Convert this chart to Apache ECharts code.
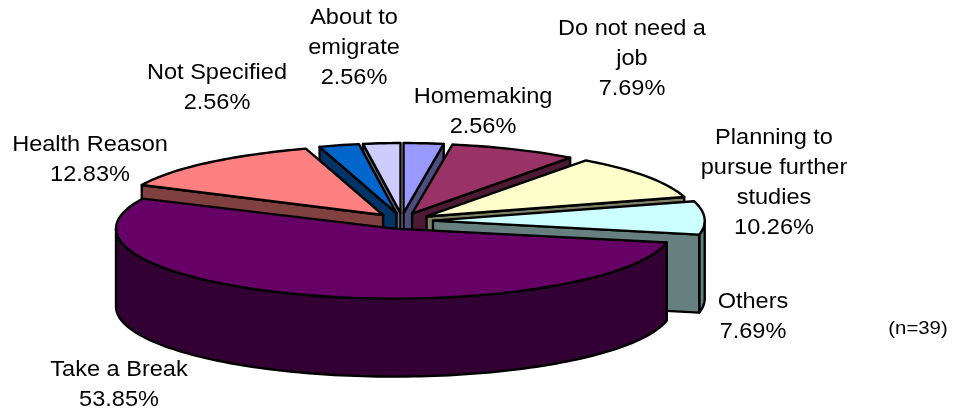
<!DOCTYPE html>
<html><head><meta charset="utf-8">
<style>html,body{margin:0;padding:0;background:#fff}#c{width:953px;height:416px}</style>
<script src="https://cdn.jsdelivr.net/npm/echarts@6/dist/echarts.min.js"></script>
</head><body><div id="c"></div>
<script>
const categories = ["Homemaking","Do not need a\njob","Planning to\npursue further\nstudies","Others","Take a Break","Health Reason","Not Specified","About to\nemigrate"];
const values = [2.56,7.69,10.26,7.69,53.85,12.83,2.56,2.56];
const note = "(n=39)";
const topColors = ["#9999FF","#993366","#FFFFCC","#CCFFFF","#660066","#FF8080","#0066CC","#CCCCFF"];
const sideColors = ["#4D4D80","#4D1A33","#808066","#668080","#330033","#804040","#003366","#666680"];
const labelCentres = [[483,112],[632,59],[774,183],[753,317],[119,385],[90,160],[217,88],[354,48]];

const C = {x:402,y:221,rx:272,ry:70,ex:31,ey:8,depth:78};
const total = values.reduce((a,b)=>a+b,0);
let acc = 0;
const slices = values.map(v=>{const a=acc/total*360;acc+=v;return {a,b:acc/total*360};});
const rad = d=>d*Math.PI/180;
slices.forEach(s=>{
  const m=rad((s.a+s.b)/2);
  s.mid=(s.a+s.b)/2;
  const sn=Math.sin(m);
  s.ax=C.x+C.ex*Math.sign(sn)*Math.pow(Math.abs(sn),1.2);
  s.ay=C.y-C.ey*Math.cos(m);
});
const order = slices.map((s,i)=>i).sort((p,q)=>slices[p].ay-slices[q].ay);
function rim(s,t){
  const r=rad(t);
  const near=1+(s.ay-C.y)*0.003;
  const pinch=s.mid<90?0.06:0.13;
  const squeeze=1-pinch*Math.pow(Math.max(0,Math.cos(r)),8);
  return [s.ax+C.rx*near*Math.sin(r)*squeeze, s.ay-C.ry*Math.cos(r)];
}
function arc(s,a,b){
  const n=Math.max(2,Math.ceil((b-a)/1.5)),p=[];
  for(let i=0;i<=n;i++)p.push(rim(s,a+(b-a)*i/n));
  return p;
}
const down=p=>[p[0],p[1]+C.depth];
const sw=2.4;
function renderItem(params){
  const i=params.dataIndex,s=slices[i],rank=order.indexOf(i)*10,kids=[];
  const poly=(pts,fill,k)=>kids.push({type:'polygon',z2:rank+k,shape:{points:pts},
    style:{fill,stroke:'#000',lineWidth:sw,lineJoin:'round'}});
  const lo=Math.max(s.a,90),hi=Math.min(s.b,270);
  if(hi>lo){const t=arc(s,lo,hi);poly(t.concat(t.map(down).reverse()),sideColors[i],0);}
  let edge=null;
  if(s.mid<90)edge=s.b; else if(s.mid>270)edge=s.a;
  if(edge!==null){
    const e=rim(s,edge),o=[s.ax,s.ay];
    poly([o,e,down(e),down(o)],sideColors[i],1);
  }
  poly([[s.ax,s.ay]].concat(arc(s,s.a,s.b)),topColors[i],2);
  return {type:'group',children:kids};
}
const pct=v=>v.toFixed(2)+'%';
const texts=categories.map((c,i)=>({type:'text',x:labelCentres[i][0],y:labelCentres[i][1],scaleX:1.07,
  style:{text:c+'\n'+pct(values[i]),fill:'#000',font:'22px "Liberation Sans", Arial, sans-serif',
    align:'center',verticalAlign:'middle',lineHeight:30}}));
texts.push({type:'text',x:918,y:329,scaleX:1.13,style:{text:note,fill:'#000',font:'18px "Liberation Sans", Arial, sans-serif',align:'center',verticalAlign:'middle'}});
const chart=echarts.init(document.getElementById('c'),null,{renderer:'canvas'});
chart.setOption({animation:false,backgroundColor:'#fff',
  graphic:{elements:texts},
  series:[{type:'custom',coordinateSystem:'none',clip:false,renderItem,
    data:values.map((v,i)=>({name:categories[i],value:v}))}]});
</script></body></html>
